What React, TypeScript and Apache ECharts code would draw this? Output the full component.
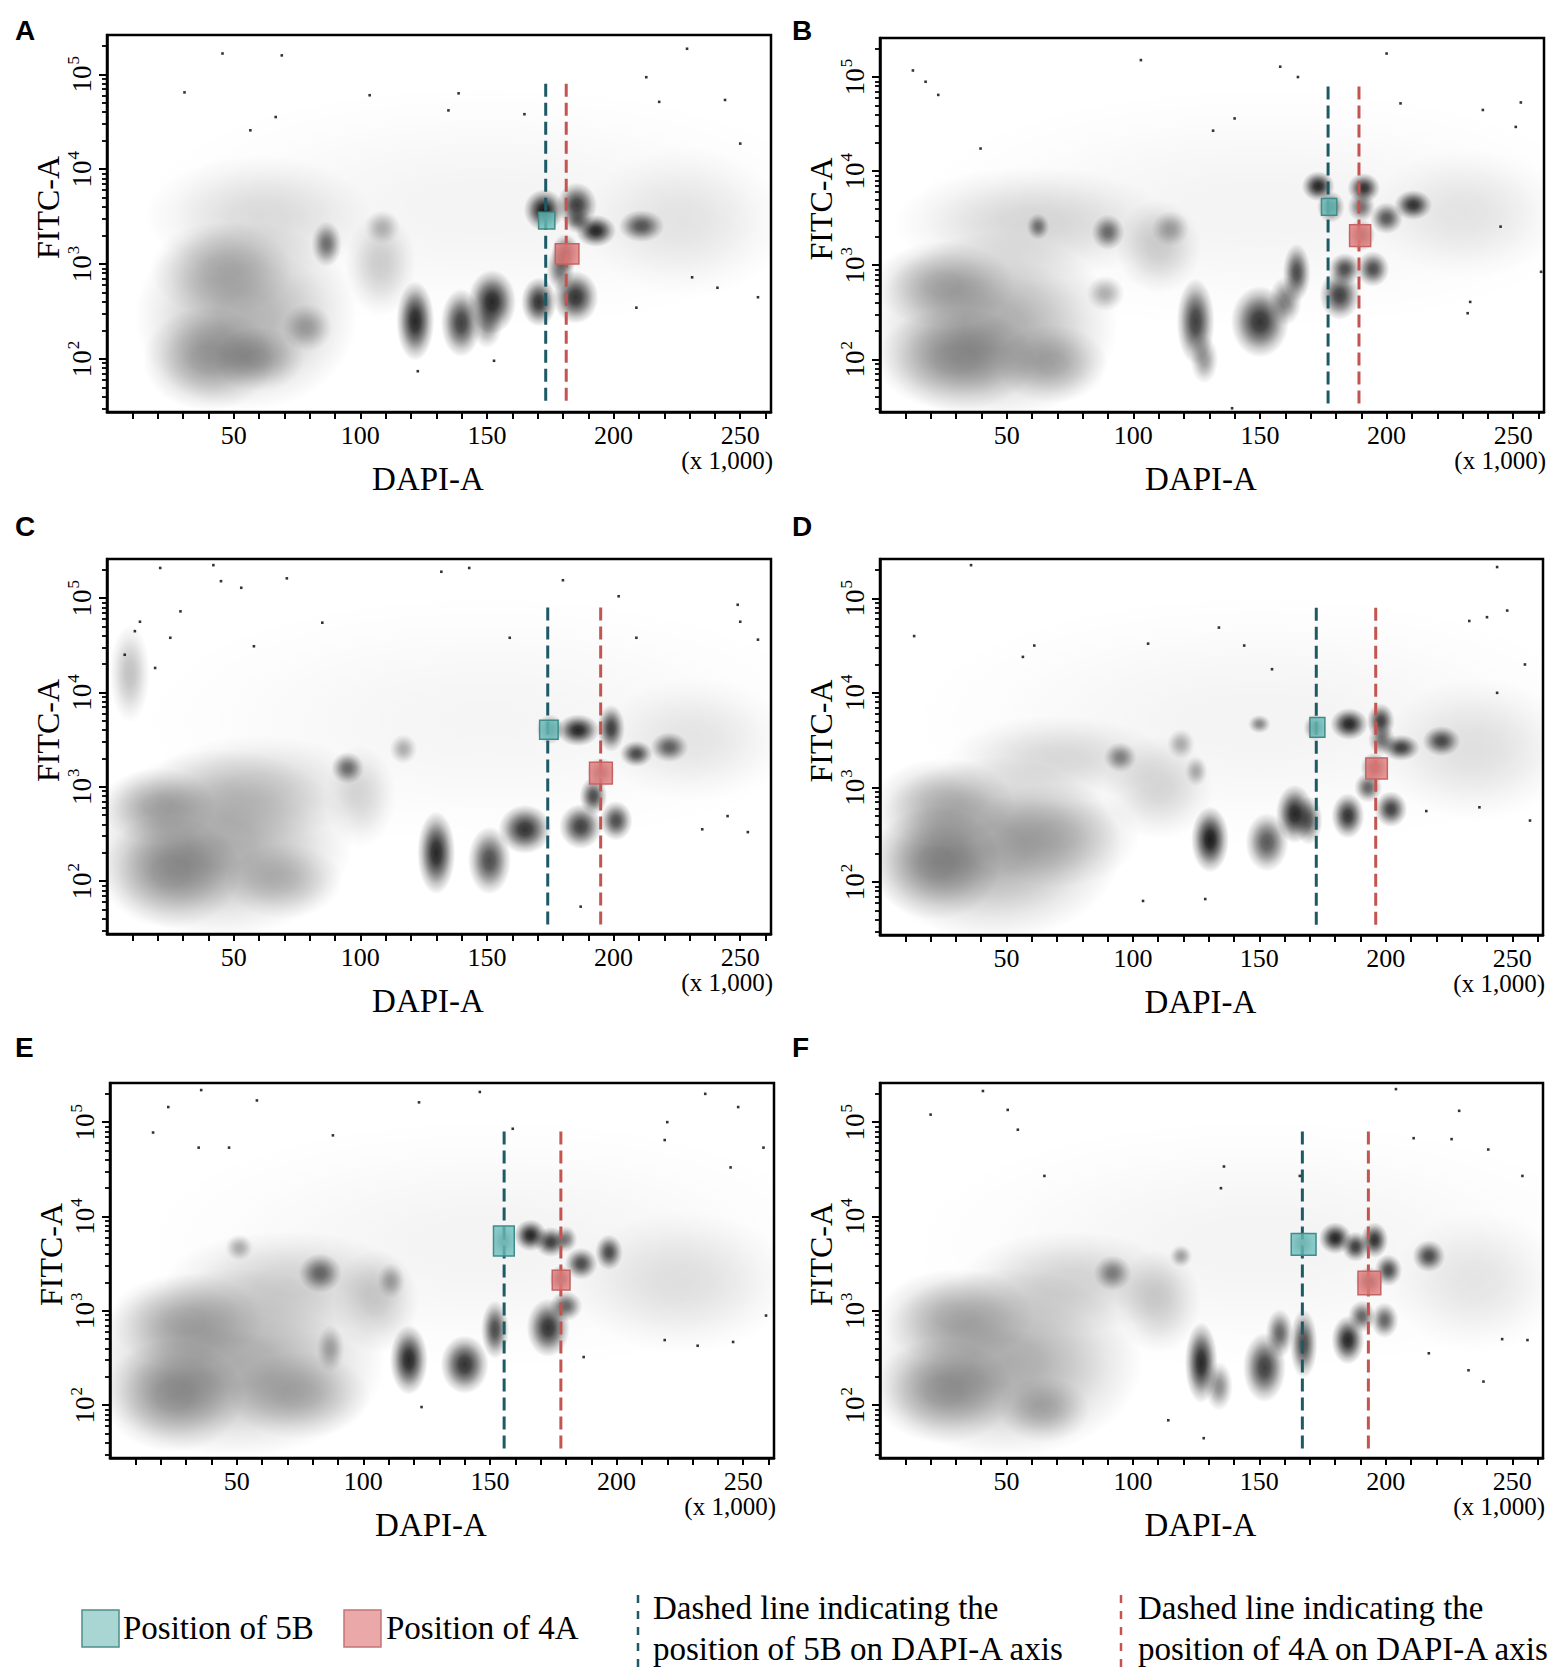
import React, { useEffect, useRef } from "react";
import * as echarts from "echarts";

// ---------- axis definitions ----------
const X_MAX = 262.144; // DAPI-A (x 1,000)
const X_TICKS = [10, 20, 30, 40, 50, 60, 70, 80, 90, 100, 110, 120, 130, 140, 150, 160, 170, 180, 190, 200, 210, 220, 230, 240, 250, 260];
const X_LABELS = [50, 100, 150, 200, 250];
const Y_MIN_LOG = 1.44; // log10(FITC-A) at bottom of plot
const Y_MAX_LOG = 5.415; // log10(262144)
const Y_MAJOR_VALUES = [100, 1000, 10000, 100000];
const Y_MINOR_VALUES = [30, 40, 50, 60, 70, 80, 90, 200, 300, 400, 500, 600, 700, 800, 900, 2000, 3000, 4000, 5000, 6000, 7000, 8000, 9000, 20000, 30000, 40000, 50000, 60000, 70000, 80000, 90000, 200000];
const PANEL_LABELS = ["A", "B", "C", "D", "E", "F"];

// ---------- dashed lines (DAPI-A, x 1,000) ----------
const line5B = [173.2, 176.9, 174.0, 172.5, 155.6, 167.0];
const line4A = [181.3, 189.1, 194.9, 196.0, 178.0, 193.1];
const LINE_TOP = 4.9; // log10 FITC-A
const LINE_BOTTOM = 1.5;

// ---------- gates: [x0, log10y0, x1, log10y1] ----------
const gate5B = [
  [170.4, 3.37, 176.8, 3.546],
  [174.3, 3.53, 180.3, 3.71],
  [170.8, 3.505, 178.1, 3.705],
  [170.0, 3.53, 175.9, 3.74],
  [151.4, 3.58, 159.6, 3.9],
  [162.6, 3.59, 172.4, 3.82],
];
const gate4A = [
  [177.0, 3.0, 186.3, 3.215],
  [185.4, 3.2, 193.7, 3.43],
  [190.5, 3.03, 199.5, 3.26],
  [192.1, 3.09, 200.6, 3.31],
  [174.6, 3.22, 181.6, 3.43],
  [189.0, 3.17, 198.0, 3.42],
];

// ---------- event density clusters: [DAPI-A (k), log10 FITC-A, spread x (k), spread y (decades), density] ----------
const clustersA = [
  [55, 2.45, 44, 1.0, 0.3], [40, 2.0, 26, 0.55, 0.32], [60, 2.0, 18, 0.34, 0.26], [45, 2.95, 28, 0.5, 0.22],
  [60, 3.5, 45, 0.65, 0.13], [108, 3.0, 14, 0.55, 0.18], [150, 3.6, 140, 1.3, 0.045], [228, 3.45, 40, 0.8, 0.09],
  [86.7, 3.21, 6, 0.24, 0.55], [108.7, 3.39, 7, 0.18, 0.25], [79, 2.33, 10, 0.25, 0.3], [121.7, 2.4, 7.5, 0.42, 0.85],
  [139.8, 2.38, 8, 0.36, 0.75], [152, 2.6, 9.5, 0.34, 0.85], [150, 2.35, 6, 0.24, 0.4], [170.5, 2.6, 7, 0.26, 0.8],
  [185, 2.65, 9, 0.28, 0.8], [179, 2.95, 5.5, 0.24, 0.55], [181, 3.12, 5.5, 0.2, 0.6], [172.5, 3.57, 8, 0.22, 0.9],
  [185.5, 3.62, 8, 0.24, 0.75], [186, 3.45, 5.5, 0.13, 0.5], [193, 3.35, 8, 0.17, 0.85], [211, 3.4, 9, 0.17, 0.65],
];
const clustersB = [
  [45, 2.35, 49, 1.0, 0.33], [30, 2.0, 32, 0.55, 0.32], [25, 2.8, 28, 0.46, 0.27], [68, 1.95, 22, 0.42, 0.27],
  [60, 3.45, 55, 0.6, 0.15], [110, 3.2, 17, 0.5, 0.18], [150, 3.6, 140, 1.3, 0.045], [232, 3.55, 38, 0.7, 0.09],
  [62.4, 3.41, 4.5, 0.14, 0.5], [90, 3.35, 6.5, 0.19, 0.55], [114.7, 3.39, 7.5, 0.19, 0.3], [89, 2.7, 7.5, 0.19, 0.3],
  [124.6, 2.4, 7.5, 0.46, 0.75], [128, 2.0, 5.5, 0.26, 0.4], [150, 2.4, 11.5, 0.38, 0.8], [160, 2.62, 6.5, 0.26, 0.5],
  [164.5, 2.92, 5.5, 0.31, 0.7], [181.5, 2.68, 8, 0.26, 0.75], [183.5, 2.96, 6.5, 0.17, 0.7], [194.6, 2.96, 6.5, 0.19, 0.7],
  [190, 3.32, 5.5, 0.17, 0.55], [200, 3.5, 6.5, 0.17, 0.65], [210.5, 3.64, 7.5, 0.16, 0.8], [173, 3.84, 6.5, 0.16, 0.85],
  [191, 3.82, 6.5, 0.16, 0.8], [178, 3.62, 5.5, 0.17, 0.6], [190, 3.62, 5.5, 0.16, 0.55],
];
const clustersC = [
  [45, 2.4, 52, 1.0, 0.33], [25, 2.1, 28, 0.6, 0.32], [20, 2.8, 23, 0.4, 0.27], [60, 3.0, 44, 0.55, 0.15],
  [70, 2.0, 23, 0.4, 0.2], [9, 4.2, 8, 0.52, 0.24], [150, 3.7, 140, 1.35, 0.04], [232, 3.5, 38, 0.66, 0.09],
  [100, 2.9, 14, 0.55, 0.15], [95, 3.2, 6.5, 0.17, 0.55], [117, 3.4, 5.5, 0.16, 0.3], [130, 2.3, 7.5, 0.44, 0.85],
  [151, 2.22, 8.5, 0.36, 0.7], [165, 2.55, 10.5, 0.26, 0.8], [187, 2.58, 8.5, 0.24, 0.75], [201, 2.64, 6.5, 0.21, 0.7],
  [192, 2.9, 5.5, 0.2, 0.7], [195, 3.15, 5.5, 0.16, 0.5], [175, 3.61, 5.5, 0.16, 0.5], [186, 3.6, 8.5, 0.17, 0.85],
  [199, 3.62, 5.5, 0.25, 0.75], [209, 3.35, 6.5, 0.14, 0.7], [222, 3.42, 7.5, 0.16, 0.6],
];
const clustersD = [
  [45, 2.35, 51, 0.97, 0.33], [22, 2.2, 26, 0.6, 0.36], [25, 2.85, 28, 0.46, 0.23], [70, 2.5, 33, 0.55, 0.2],
  [70, 3.3, 44, 0.46, 0.14], [150, 3.7, 140, 1.35, 0.045], [236, 3.4, 38, 0.76, 0.11], [110, 3.0, 22, 0.55, 0.15],
  [95, 3.32, 6.5, 0.16, 0.45], [119, 3.46, 5.5, 0.16, 0.3], [125, 3.17, 4.5, 0.16, 0.3], [130.5, 2.45, 7.5, 0.35, 0.9],
  [153, 2.42, 8.5, 0.31, 0.65], [164, 2.72, 7.5, 0.31, 0.85], [169.5, 2.65, 5.5, 0.26, 0.6], [185, 2.7, 6.5, 0.24, 0.8],
  [202, 2.77, 6.5, 0.19, 0.75], [193, 3.0, 5.5, 0.16, 0.6], [195.5, 3.21, 5.5, 0.16, 0.6], [172, 3.63, 4.5, 0.14, 0.5],
  [150, 3.67, 4.5, 0.1, 0.45], [185.5, 3.67, 7.5, 0.17, 0.85], [198, 3.7, 5.5, 0.19, 0.75], [198.5, 3.5, 5.5, 0.16, 0.55],
  [206, 3.42, 7.5, 0.14, 0.75], [222, 3.49, 7.5, 0.16, 0.7],
];
const clustersE = [
  [50, 2.45, 59, 1.0, 0.33], [25, 2.1, 28, 0.6, 0.34], [30, 2.9, 31, 0.5, 0.25], [75, 2.1, 28, 0.46, 0.23],
  [70, 3.3, 49, 0.55, 0.16], [150, 3.7, 140, 1.35, 0.045], [226, 3.3, 44, 0.76, 0.11], [105, 3.1, 17, 0.55, 0.18],
  [83, 3.4, 8.5, 0.21, 0.55], [51, 3.67, 5.5, 0.14, 0.3], [111, 3.32, 5.5, 0.19, 0.3], [87, 2.6, 5.5, 0.25, 0.3],
  [118, 2.48, 7.5, 0.37, 0.85], [140, 2.43, 9.5, 0.31, 0.8], [152, 2.8, 5.5, 0.31, 0.7], [173, 2.82, 8.5, 0.31, 0.8],
  [180, 3.05, 6.5, 0.16, 0.6], [178, 3.34, 4.5, 0.14, 0.55], [186, 3.5, 6.5, 0.17, 0.7], [197, 3.62, 5.5, 0.19, 0.7],
  [166, 3.8, 6.5, 0.17, 0.85], [174, 3.73, 6.5, 0.16, 0.75], [180, 3.76, 4.5, 0.14, 0.5], [155.5, 3.74, 4.5, 0.16, 0.4],
];
const clustersF = [
  [50, 2.45, 54, 1.0, 0.33], [25, 2.15, 28, 0.56, 0.32], [30, 2.95, 31, 0.5, 0.25], [65, 1.95, 18, 0.35, 0.24],
  [75, 3.3, 44, 0.55, 0.16], [150, 3.7, 140, 1.35, 0.045], [236, 3.3, 34, 0.76, 0.09], [110, 3.1, 17, 0.55, 0.18],
  [92, 3.4, 7.5, 0.19, 0.45], [119, 3.58, 4.5, 0.12, 0.35], [127, 2.45, 6.5, 0.43, 0.85], [134, 2.2, 5.5, 0.26, 0.45],
  [152, 2.4, 8.5, 0.37, 0.75], [158, 2.76, 5.5, 0.26, 0.6], [167.5, 2.65, 5.5, 0.37, 0.7], [185, 2.69, 6.5, 0.26, 0.85],
  [190.5, 2.94, 5.5, 0.17, 0.6], [199.5, 2.9, 5.5, 0.19, 0.6], [193.5, 3.31, 5.5, 0.16, 0.6], [201, 3.43, 5.5, 0.17, 0.7],
  [180, 3.77, 6.5, 0.17, 0.85], [188, 3.68, 5.5, 0.16, 0.75], [195.5, 3.75, 5.5, 0.19, 0.8], [217, 3.58, 6.5, 0.17, 0.7],
  [167, 3.71, 4.5, 0.14, 0.4],
];

// ---------- sparse single events: [DAPI-A (k), log10 FITC-A] ----------
const outliersA = [
  [45.6, 5.22], [30.6, 4.81], [103.7, 4.78], [138.8, 4.8], [229, 5.27], [212.9, 4.97], [244, 4.73], [218, 4.71],
  [66.6, 4.55], [56.6, 4.41], [250, 4.27], [134.8, 4.62], [231, 2.86], [241, 2.75], [257, 2.65], [209, 2.54],
  [152.8, 1.98], [122.7, 1.87], [69, 5.2], [164.8, 4.58],
];
const outliersB = [
  [13, 5.07], [18, 4.95], [23, 4.81], [103, 5.18], [158, 5.11], [165, 5.0], [200, 5.25], [253, 4.73], [238, 4.65],
  [251, 4.47], [205.5, 4.72], [131.5, 4.43], [140, 4.56], [39.7, 4.24], [233, 2.61], [232, 2.49], [261, 2.93],
  [245, 3.41], [139, 1.48],
];
const outliersC = [
  [21, 5.32], [42, 5.35], [143, 5.32], [132, 5.28], [180, 5.19], [202, 5.02], [249, 4.93], [250, 4.75], [257, 4.56],
  [58, 4.49], [85, 4.74], [159, 4.58], [209, 4.58], [235, 2.55], [245, 2.69], [253, 2.52], [187, 1.73], [7, 4.4],
  [11, 4.65], [13, 4.75], [19, 4.26], [25, 4.58], [29, 4.86], [45, 5.18], [53, 5.11], [71, 5.21],
];
const outliersD = [
  [36, 5.35], [244, 5.33], [248, 4.87], [233, 4.76], [240, 4.8], [134, 4.69], [144, 4.5], [106, 4.52], [61, 4.5],
  [56.5, 4.38], [13.5, 4.6], [155, 4.25], [244, 4.0], [255, 4.3], [257, 2.65], [216, 2.75], [237, 2.79], [128.6, 1.82],
  [104, 1.8],
];
const outliersE = [
  [36, 5.34], [58, 5.23], [122, 5.21], [146, 5.32], [235, 5.3], [248, 5.16], [220, 5.0], [258, 4.73], [17, 4.89],
  [23, 5.16], [47, 4.73], [35, 4.73], [88, 4.86], [159, 4.93], [219, 4.81], [245, 4.52], [232, 2.63], [246, 2.67],
  [259, 2.95], [219, 2.69], [187, 2.51], [123, 1.98],
];
const outliersF = [
  [40.7, 5.33], [50.5, 5.13], [20, 5.08], [54.5, 4.92], [229, 5.12], [204, 5.35], [240.5, 4.71], [211, 4.83],
  [226, 4.82], [136, 4.53], [134.8, 4.3], [166, 4.43], [65, 4.43], [254, 4.43], [238.6, 2.25], [232.7, 2.37],
  [246, 2.7], [256, 2.69], [217, 2.55], [128, 1.65], [114, 1.84],
];

const CLUSTERS = [clustersA, clustersB, clustersC, clustersD, clustersE, clustersF];
const OUTLIERS = [outliersA, outliersB, outliersC, outliersD, outliersE, outliersF];

// ---------- layout ----------
const W = 1562;
const H = 1679;
const GRIDS = [
  { left: 107, top: 35, width: 664, height: 377 },
  { left: 880, top: 38, width: 664, height: 374 },
  { left: 107, top: 559, width: 664, height: 375 },
  { left: 880, top: 559, width: 663, height: 376 },
  { left: 110, top: 1083, width: 664, height: 375 },
  { left: 880, top: 1083, width: 663, height: 375 },
];
const LETTER_POS = [
  [15, 30], [792, 30], [15, 526], [792, 526], [15, 1047], [792, 1047],
];
const SERIF = "'Liberation Serif', 'Times New Roman', serif";
const SANS = "'Liberation Sans', Arial, sans-serif";
const TEAL_LINE = "#1d5a66";
const RED_LINE = "#c3544f";
const TEAL_FILL = "rgba(105,190,186,0.78)";
const TEAL_STROKE = "#3f8c8a";
const RED_FILL = "rgba(228,122,122,0.78)";
const RED_STROKE = "#c46464";

function clusterItem(params: any, api: any) {
  const c = api.coord([api.value(0), api.value(1)]);
  const s = api.size([api.value(2), api.value(3)]);
  const d = api.value(4);
  const a = (k: number) => `rgba(0,0,0,${(d * k).toFixed(3)})`;
  return {
    type: "ellipse",
    shape: { cx: c[0], cy: c[1], rx: s[0], ry: s[1] },
    style: {
      fill: new echarts.graphic.RadialGradient(0.5, 0.5, 0.5, [
        { offset: 0, color: a(1) },
        { offset: 0.25, color: a(0.9) },
        { offset: 0.5, color: a(0.6) },
        { offset: 0.75, color: a(0.25) },
        { offset: 1, color: "rgba(0,0,0,0)" },
      ]),
    },
  };
}

function gateRenderer(fill: string, stroke: string) {
  return (params: any, api: any) => {
    const p0 = api.coord([api.value(0), api.value(3)]);
    const p1 = api.coord([api.value(2), api.value(1)]);
    return {
      type: "rect",
      shape: { x: p0[0], y: p0[1], width: p1[0] - p0[0], height: p1[1] - p0[1] },
      style: { fill, stroke, lineWidth: 1.5 },
    };
  };
}

function buildOption() {
  const xAxis: any[] = [];
  const yAxis: any[] = [];
  const series: any[] = [];
  const graphic: any[] = [];

  GRIDS.forEach((g, i) => {
    xAxis.push({
      type: "value",
      gridIndex: i,
      min: 0,
      max: X_MAX,
      axisLine: { show: true, onZero: false, lineStyle: { color: "#000", width: 2.5 } },
      axisTick: { show: true, customValues: X_TICKS, length: 7, lineStyle: { color: "#000", width: 2 } },
      axisLabel: { customValues: X_LABELS, margin: 10, fontSize: 26, fontFamily: SERIF, color: "#000" },
      splitLine: { show: false },
      name: "DAPI-A",
      nameLocation: "middle",
      nameGap: 50,
      nameTextStyle: { fontSize: 33, fontFamily: SERIF, color: "#000", padding: [0, 22, 0, 0] },
    });
    yAxis.push({
      type: "value",
      gridIndex: i,
      position: "left",
      min: Y_MIN_LOG,
      max: Y_MAX_LOG,
      axisLine: { show: true, onZero: false, lineStyle: { color: "#000", width: 2.5 } },
      axisTick: { show: true, customValues: Y_MAJOR_VALUES.map(Math.log10), length: 8, lineStyle: { color: "#000", width: 2 } },
      axisLabel: {
        customValues: Y_MAJOR_VALUES.map(Math.log10),
        rotate: 90,
        margin: 12,
        fontSize: 27,
        fontFamily: SERIF,
        color: "#000",
        formatter: (v: number) => `{b|10}{s|${Math.round(v)}}`,
        rich: {
          b: { fontSize: 27, fontFamily: SERIF, color: "#000", lineHeight: 30, verticalAlign: "bottom" },
          s: { fontSize: 17, fontFamily: SERIF, color: "#000", lineHeight: 30, verticalAlign: "top", padding: [0, 0, 10, 1] },
        },
      },
      splitLine: { show: false },
      name: "FITC-A",
      nameLocation: "middle",
      nameGap: 40,
      nameTextStyle: { fontSize: 32, fontFamily: SERIF, color: "#000", padding: [0, 0, 0, 32] },
    });
    yAxis.push({
      type: "value",
      gridIndex: i,
      position: "left",
      offset: 0,
      min: Y_MIN_LOG,
      max: Y_MAX_LOG,
      axisLine: { show: false },
      axisTick: { show: true, customValues: Y_MINOR_VALUES.map(Math.log10), length: 5, lineStyle: { color: "#000", width: 1.8 } },
      axisLabel: { show: false },
      splitLine: { show: false },
    });

    const yi = 2 * i;
    series.push({
      type: "custom",
      name: `events ${PANEL_LABELS[i]}`,
      xAxisIndex: i,
      yAxisIndex: yi,
      data: CLUSTERS[i],
      encode: { x: 0, y: 1 },
      renderItem: clusterItem,
      clip: true,
      silent: true,
      z: 1,
    });
    series.push({
      type: "scatter",
      xAxisIndex: i,
      yAxisIndex: yi,
      data: OUTLIERS[i],
      symbol: "rect",
      symbolSize: 2.6,
      itemStyle: { color: "#000" },
      silent: true,
      z: 2,
    });
    series.push({
      type: "line",
      xAxisIndex: i,
      yAxisIndex: yi,
      data: [[line5B[i], LINE_TOP], [line5B[i], LINE_BOTTOM]],
      symbol: "none",
      lineStyle: { color: TEAL_LINE, width: 3, type: [13, 6] },
      silent: true,
      z: 3,
    });
    series.push({
      type: "line",
      xAxisIndex: i,
      yAxisIndex: yi,
      data: [[line4A[i], LINE_TOP], [line4A[i], LINE_BOTTOM]],
      symbol: "none",
      lineStyle: { color: RED_LINE, width: 3, type: [13, 6] },
      silent: true,
      z: 3,
    });
    series.push({
      type: "custom",
      xAxisIndex: i,
      yAxisIndex: yi,
      data: [gate5B[i]],
      encode: { x: [0, 2], y: [1, 3] },
      renderItem: gateRenderer(TEAL_FILL, TEAL_STROKE),
      silent: true,
      z: 4,
    });
    series.push({
      type: "custom",
      xAxisIndex: i,
      yAxisIndex: yi,
      data: [gate4A[i]],
      encode: { x: [0, 2], y: [1, 3] },
      renderItem: gateRenderer(RED_FILL, RED_STROKE),
      silent: true,
      z: 4,
    });

    graphic.push({
      type: "text",
      x: LETTER_POS[i][0],
      y: LETTER_POS[i][1],
      style: { text: PANEL_LABELS[i], fontSize: 28, fontWeight: "bold", fontFamily: SANS, fill: "#000", textVerticalAlign: "middle" },
    });
    graphic.push({
      type: "text",
      x: g.left + g.width + 2,
      y: g.top + g.height + 48,
      style: { text: "(x 1,000)", fontSize: 25, fontFamily: SERIF, fill: "#000", textAlign: "right", textVerticalAlign: "middle" },
    });
  });

  // legend
  const legendText = { fontSize: 33, fontFamily: SERIF, fill: "#000", textVerticalAlign: "middle" };
  graphic.push(
    { type: "rect", shape: { x: 82, y: 1610, width: 37, height: 37 }, style: { fill: "#a9d5d3", stroke: "#4d8e8c", lineWidth: 1.5 } },
    { type: "text", x: 123, y: 1628, style: { ...legendText, text: "Position of 5B" } },
    { type: "rect", shape: { x: 344, y: 1610, width: 37, height: 37 }, style: { fill: "#eaa8a8", stroke: "#c47474", lineWidth: 1.5 } },
    { type: "text", x: 386, y: 1628, style: { ...legendText, text: "Position of 4A" } },
    { type: "line", shape: { x1: 638, y1: 1595, x2: 638, y2: 1670 }, style: { stroke: TEAL_LINE, lineWidth: 2.5, lineDash: [8, 8] } },
    { type: "text", x: 653, y: 1608, style: { ...legendText, text: "Dashed line indicating the" } },
    { type: "text", x: 653, y: 1649, style: { ...legendText, text: "position of 5B on DAPI-A axis" } },
    { type: "line", shape: { x1: 1121, y1: 1595, x2: 1121, y2: 1670 }, style: { stroke: RED_LINE, lineWidth: 2.5, lineDash: [8, 8] } },
    { type: "text", x: 1138, y: 1608, style: { ...legendText, text: "Dashed line indicating the" } },
    { type: "text", x: 1138, y: 1649, style: { ...legendText, text: "position of 4A on DAPI-A axis" } }
  );

  return {
    animation: false,
    backgroundColor: "#ffffff",
    grid: GRIDS.map((g) => ({ ...g, show: true, borderColor: "#000", borderWidth: 2.5, backgroundColor: "transparent", containLabel: false })),
    xAxis,
    yAxis,
    series,
    graphic,
  };
}

export default function App() {
  const ref = useRef<HTMLDivElement>(null);
  useEffect(() => {
    if (!ref.current) return;
    const chart = echarts.init(ref.current, null, { renderer: "svg", width: W, height: H });
    chart.setOption(buildOption() as any);
    return () => chart.dispose();
  }, []);
  return <div ref={ref} style={{ position: "absolute", left: 0, top: 0, width: W, height: H, background: "#fff" }} />;
}
